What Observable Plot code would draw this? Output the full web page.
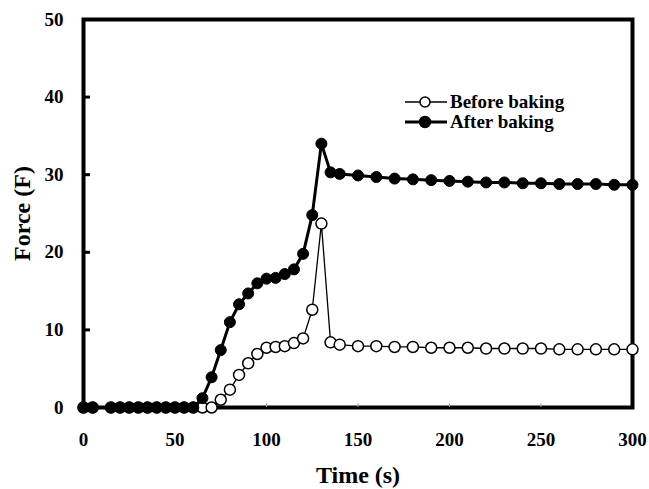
<!DOCTYPE html>
<html><head><meta charset="utf-8">
<script src="https://cdn.jsdelivr.net/npm/d3@7"></script>
<script src="https://cdn.jsdelivr.net/npm/@observablehq/plot@0.6"></script>
<style>
body{margin:0;background:#fff;}
#wrap{position:relative;width:649px;height:489px;font-family:"Liberation Serif","Times New Roman",serif;font-weight:bold;color:#000;}
#legend{position:absolute;left:403px;top:92px;font-size:19px;}
.row{display:flex;align-items:center;height:20px;white-space:nowrap;}
.row svg{display:block;margin-right:1px;}
</style></head><body>
<div id="wrap"><div id="chart"></div><div id="legend"></div></div>
<script>
const time = [0,5,15,20,25,30,35,40,45,50,55,60,65,70,75,80,85,90,95,100,105,110,115,120,125,130,135,140,150,160,170,180,190,200,210,220,230,240,250,260,270,280,290,300];
const beforeBaking = [0,0,0,0,0,0,0,0,0,0,0,0,0,0,1.0,2.3,4.2,5.7,6.9,7.7,7.8,7.9,8.3,8.9,12.6,23.7,8.4,8.1,7.9,7.9,7.8,7.8,7.7,7.7,7.7,7.6,7.6,7.6,7.6,7.5,7.5,7.5,7.5,7.5];
const afterBaking = [0,0,0,0,0,0,0,0,0,0,0,0,1.2,3.9,7.4,11.0,13.3,14.7,16.0,16.6,16.7,17.2,17.8,19.8,24.8,34.0,30.3,30.1,29.9,29.7,29.5,29.4,29.3,29.2,29.1,29.0,29.0,28.9,28.9,28.8,28.8,28.8,28.7,28.7];
const xTicks = [0,50,100,150,200,250,300];
const yTicks = [0,10,20,30,40,50];
const seriesNames = ["Before baking","After baking"];
const xTitle = "Time (s)";
const yTitle = "Force (F)";

const before = time.map((t,i)=>({t, f: beforeBaking[i]}));
const after = time.map((t,i)=>({t, f: afterBaking[i]}));

const chart = Plot.plot({
  width: 649, height: 489,
  marginLeft: 83, marginRight: 17, marginTop: 19, marginBottom: 82,
  style: {fontFamily: '"Liberation Serif","Times New Roman",serif', fontWeight: "bold", fontSize: "19px", background: "white", color: "black"},
  x: {domain: [0,300]},
  y: {domain: [0,50]},
  marks: [
    Plot.frame({stroke: "black", strokeWidth: 4}),
    Plot.axisX(xTicks.slice(1,-1), {tickSize: -4, stroke: "#aaa", strokeWidth: 1, tickFormat: () => "", label: null}),
    Plot.axisX(xTicks, {tickSize: 0, tickPadding: 25, label: null, fontSize: 19}),
    Plot.axisY(yTicks.slice(1,-1), {tickSize: -7, strokeWidth: 3, tickFormat: () => "", label: null}),
    Plot.axisY(yTicks, {tickSize: 0, tickPadding: 20, label: null, fontSize: 19}),
    Plot.axisX([], {label: xTitle, labelAnchor: "center", labelOffset: 75, fontSize: 24, labelArrow: "none"}),
    Plot.axisY([], {label: yTitle, labelAnchor: "center", labelOffset: 71, fontSize: 24, labelArrow: "none"}),
    Plot.line(before, {x: "t", y: "f", stroke: "black", strokeWidth: 1.3}),
    Plot.dot(before, {x: "t", y: "f", r: 5.5, fill: "white", stroke: "black", strokeWidth: 1.5}),
    Plot.line(after, {x: "t", y: "f", stroke: "black", strokeWidth: 3}),
    Plot.dot(after, {x: "t", y: "f", r: 5.5, fill: "black", stroke: "black", strokeWidth: 1})
  ]
});
document.getElementById("chart").appendChild(chart);

const legend = document.getElementById("legend");
seriesNames.forEach((name, i) => {
  const row = document.createElement("div");
  row.className = "row";
  const filled = i === 1;
  row.innerHTML = `<svg width="46" height="20"><line x1="2" x2="44" y1="10" y2="10" stroke="black" stroke-width="${filled ? 3 : 1.5}"/><circle cx="22" cy="10" r="${filled ? 5.5 : 5}" fill="${filled ? "black" : "white"}" stroke="black" stroke-width="1.5"/></svg><span>${name}</span>`;
  legend.appendChild(row);
});
</script>
</body></html>
